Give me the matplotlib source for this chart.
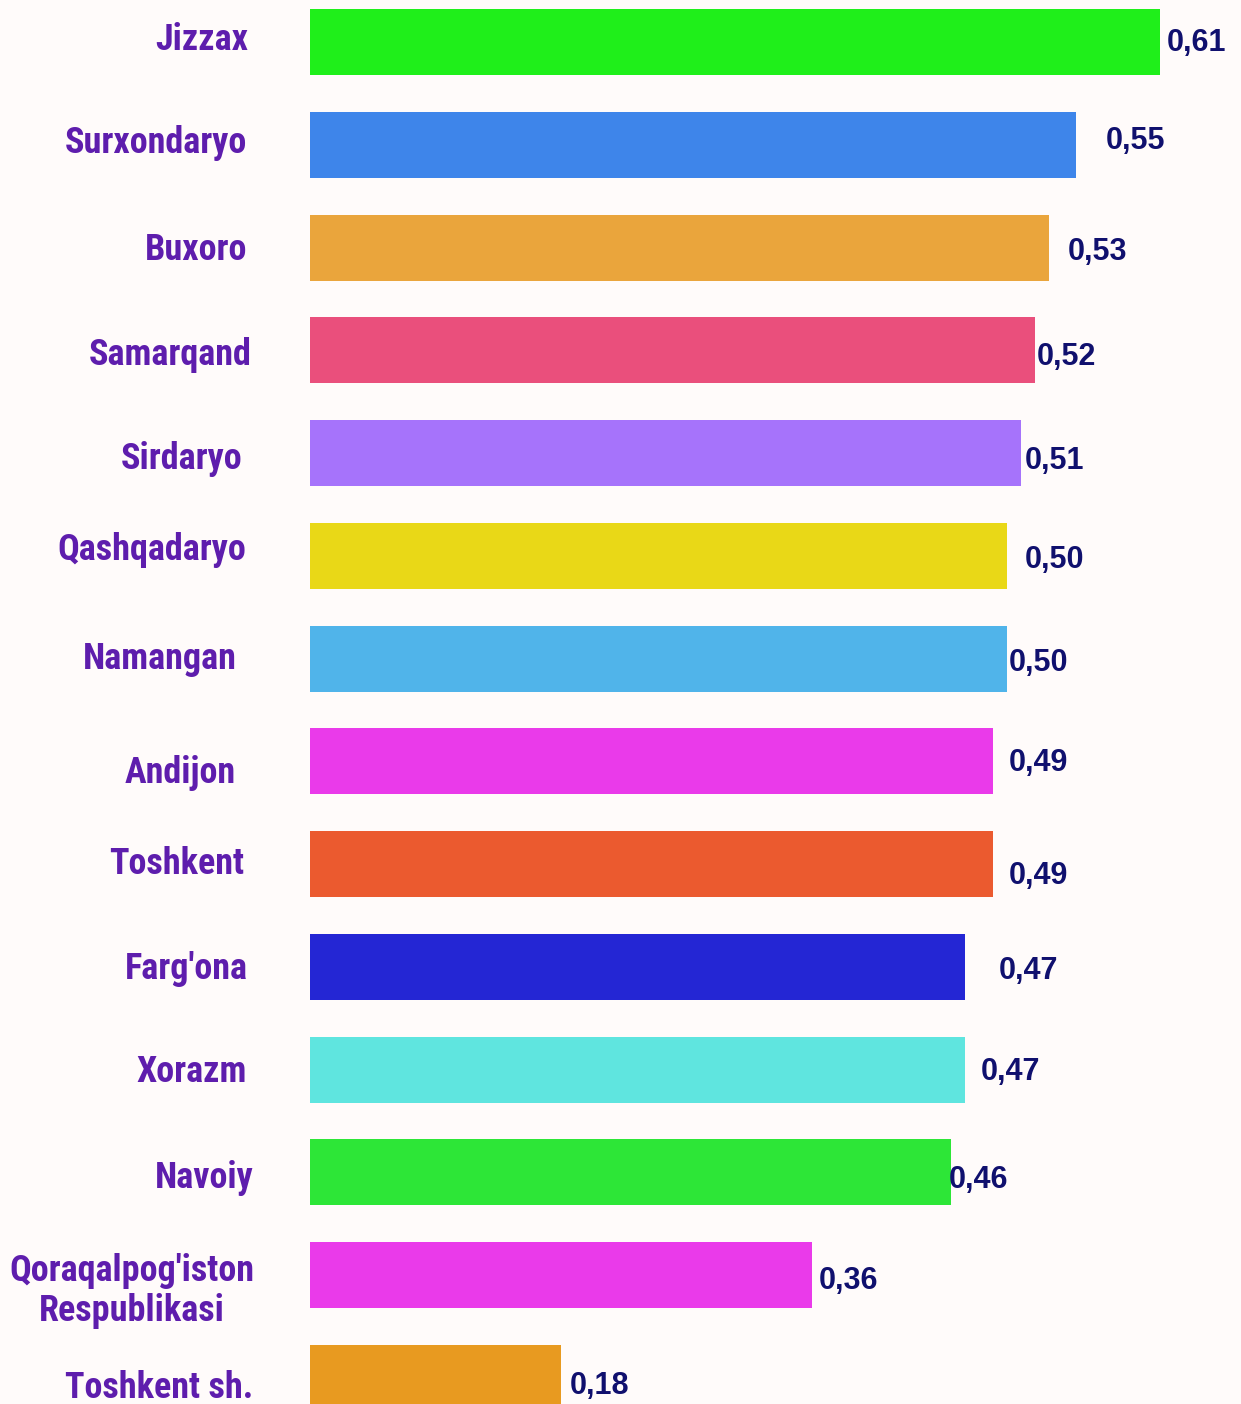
import matplotlib.pyplot as plt

# data
regions = ["Jizzax", "Surxondaryo", "Buxoro", "Samarqand", "Sirdaryo", "Qashqadaryo",
           "Namangan", "Andijon", "Toshkent", "Farg'ona", "Xorazm", "Navoiy",
           "Qoraqalpog'iston\nRespublikasi", "Toshkent sh."]
values = [0.61, 0.55, 0.53, 0.52, 0.51, 0.50, 0.50, 0.49, 0.49, 0.47, 0.47, 0.46, 0.36, 0.18]
value_labels = ["0,61", "0,55", "0,53", "0,52", "0,51", "0,50", "0,50", "0,49", "0,49",
                "0,47", "0,47", "0,46", "0,36", "0,18"]
bar_colors = ["#1FEF1A", "#3E85EA", "#EAA53C", "#EA4F7C", "#A673FB", "#E9D817", "#50B4EA",
              "#EA3AEA", "#EB5A2F", "#2426D4", "#5FE5DF", "#2DE637", "#EA3AEA", "#E89A20"]

# hand placed label offsets in pixels (dx, dy with dy pointing down)
value_offsets = [(7, 1), (29, -4), (19, 4), (2, 7), (4, 8), (18, 4), (2, 4),
                 (16, 2), (16, 12), (34, 4), (16, 2), (-2, 8), (7, 6), (9, 8)]
name_offsets = [(248, -2), (247, -2), (247, 2), (252, 5), (242, 6), (246, -6), (237, 0),
                (236, 12), (244, 0), (248, 2), (247, 2), (254, 6), (132, 16), (253, 10)]

bg = "#FFFBFA"
name_color = "#5E1DAD"
value_color = "#10106E"

W, H = 1241, 1404
fig = plt.figure(figsize=(W / 100, H / 100), dpi=100, facecolor=bg)
left_px = 310
ax = fig.add_axes([left_px / W, 0, 1 - left_px / W, 1])
ax.set_facecolor(bg)

pitch = 102.77
y_top = -42 / pitch
y_bot = (H - 42) / pitch
px_per_unit = 850 / 0.61

ypos = list(range(len(regions)))
ax.barh(ypos, values, height=66 / pitch, color=bar_colors)
ax.set_ylim(y_bot, y_top)
ax.set_xlim(0, (W - left_px) / px_per_unit)
ax.axis("off")

for i, (v, lab) in enumerate(zip(values, value_labels)):
    dx, dy = value_offsets[i]
    ax.annotate(lab, xy=(v, i), xycoords="data", xytext=(dx, -dy), textcoords="offset pixels",
                ha="left", va="center", fontsize=22, fontweight="bold",
                family=["Liberation Sans", "DejaVu Sans"], color=value_color,
                annotation_clip=False)

for i, name in enumerate(regions):
    x_px, dy = name_offsets[i]
    ha = "center" if "\n" in name else "right"
    ax.annotate(name, xy=(0, i), xycoords="data", xytext=(x_px - left_px, -dy),
                textcoords="offset pixels", ha=ha, va="center", multialignment="center",
                fontsize=26, fontweight="bold", fontstretch="condensed",
                family=["Roboto Condensed", "Roboto", "DejaVu Sans"], color=name_color,
                linespacing=1.15, annotation_clip=False)

fig.savefig("out.png", dpi=100, facecolor=bg)
